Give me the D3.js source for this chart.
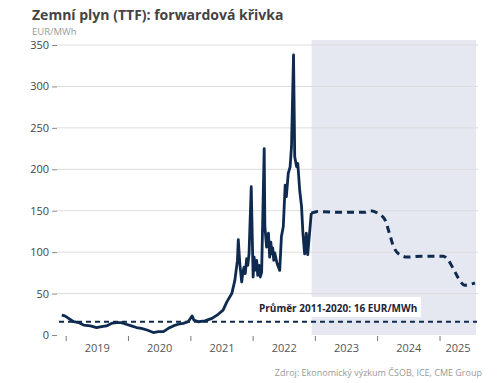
<!DOCTYPE html>
<html>
<head>
<meta charset="utf-8">
<script src="https://cdn.jsdelivr.net/npm/d3@7"></script>
<style>
    body { margin: 0; background: #fff; }
    text { font-family: "Open Sans", sans-serif; }
</style>
</head>
<body>
<svg id="chart" width="499" height="383"></svg>
<script>
// historical TTF front month, EUR/MWh
var histDates = ["2018-12-06","2018-12-24","2019-01-15","2019-02-14","2019-03-15","2019-04-13","2019-05-23","2019-06-28",
    "2019-07-27","2019-08-25","2019-09-23","2019-10-22","2019-11-20","2019-12-19","2020-01-18","2020-02-17","2020-03-17",
    "2020-04-19","2020-05-26","2020-06-24","2020-07-24","2020-08-22","2020-09-20","2020-10-19","2020-11-17","2020-12-16",
    "2021-01-08","2021-01-19","2021-02-14","2021-03-25","2021-05-05","2021-06-10","2021-07-09","2021-07-31","2021-08-29",
    "2021-09-16","2021-10-01","2021-10-06","2021-10-15","2021-10-26","2021-11-02","2021-11-09","2021-11-16","2021-11-24",
    "2021-12-01","2021-12-08","2021-12-21","2022-01-01","2022-01-07","2022-01-12","2022-01-22","2022-01-28","2022-02-06",
    "2022-02-12","2022-02-20","2022-03-07","2022-03-11","2022-03-21","2022-04-01","2022-04-08","2022-04-15","2022-04-20",
    "2022-04-26","2022-05-02","2022-05-08","2022-05-22","2022-06-06","2022-06-16","2022-06-27","2022-07-08","2022-07-15",
    "2022-07-26","2022-08-06","2022-08-14","2022-08-26","2022-09-02","2022-09-13","2022-09-20","2022-10-01","2022-10-12",
    "2022-10-20","2022-10-30","2022-11-09","2022-11-17","2022-11-28","2022-12-08"];
var histValues = [24, 23, 20, 16, 15, 12, 11, 9,
    10, 11, 14, 15, 15, 13, 11, 9, 8,
    6, 3, 4, 4, 8, 11, 13, 14, 16,
    23, 18, 16, 17, 20, 25, 30, 40, 50,
    66, 90, 115, 86, 64, 76, 82, 74, 92,
    84, 98, 179, 70, 94, 78, 90, 72, 84,
    70, 76, 225, 131, 106, 123, 94, 112, 98,
    105, 90, 99, 86, 78, 119, 131, 181, 167,
    195, 203, 227, 338, 215, 203, 207, 175, 155,
    123, 98, 123, 97, 123, 147];

// forward curve
var fwdDates = ["2022-12-08","2023-01-15","2023-06-15","2023-10-15","2023-11-20","2024-01-01","2024-02-13","2024-03-10",
    "2024-04-03","2024-05-03","2024-06-22","2024-09-15","2025-01-20","2025-02-12","2025-03-20","2025-04-20","2025-05-25","2025-07-25"];
var fwdValues = [147, 149, 148, 148, 150, 147, 139, 123,
    107, 98, 94, 95, 95, 92, 80, 68, 60, 63];

var yTicks = [0, 50, 100, 150, 200, 250, 300, 350];
var yearLabels = ["2019", "2020", "2021", "2022", "2023", "2024", "2025"];
var average = 16;
var forecastStart = "2022-12-10";
var domainStart = "2018-11-08", domainEnd = "2025-07-31";

var parse = d3.timeParse("%Y-%m-%d");
var svg = d3.select("#chart");

var x = d3.scaleTime()
    .domain([parse(domainStart), parse(domainEnd)])
    .range([57, 476]);

var y = d3.scaleLinear()
    .domain([0, 350])
    .range([335, 45]);

var navy = "#0f2a4f";

// forecast shading
svg.append("rect")
    .attr("x", x(parse(forecastStart)))
    .attr("y", 40)
    .attr("width", x(parse(domainEnd)) - x(parse(forecastStart)))
    .attr("height", y(0) - 40)
    .attr("fill", "#e5e8f0");

// gridlines
svg.append("g").selectAll("line")
    .data(yTicks.filter(d => d > 0))
    .enter().append("line")
    .attr("x1", 57).attr("x2", 478)
    .attr("y1", d => y(d)).attr("y2", d => y(d))
    .attr("stroke", "#dcdcdc")
    .attr("stroke-width", 1);

// y axis
var yAxis = svg.append("g")
    .attr("transform", "translate(57,0)")
    .call(d3.axisLeft(y).tickValues(yTicks).tickSize(5).tickPadding(3));
yAxis.select(".domain").remove();
yAxis.selectAll(".tick line").attr("stroke", "#888");
yAxis.selectAll("text")
    .attr("fill", "#444")
    .style("font-size", "11px")
    .style("font-family", "Open Sans, sans-serif");

// x axis ticks on year starts
var yearStarts = yearLabels.map(d => parse(d + "-01-01"));
svg.append("g").selectAll("line")
    .data(yearStarts)
    .enter().append("line")
    .attr("x1", d => x(d)).attr("x2", d => x(d))
    .attr("y1", 336).attr("y2", 341)
    .attr("stroke", "#777");

svg.append("g").selectAll("text")
    .data(yearLabels)
    .enter().append("text")
    .attr("x", function(d, i) {
        var a = x(yearStarts[i]);
        var b = i < yearLabels.length - 1 ? x(yearStarts[i + 1]) : x(parse(domainEnd));
        return (a + b) / 2;
    })
    .attr("y", 352)
    .attr("text-anchor", "middle")
    .attr("fill", "#555")
    .style("font-size", "11px")
    .text(d => d);

// average line
svg.append("line")
    .attr("x1", 59).attr("x2", 477)
    .attr("y1", y(average)).attr("y2", y(average))
    .attr("stroke", navy)
    .attr("stroke-width", 2)
    .attr("stroke-dasharray", "5,4");

svg.append("rect")
    .attr("x", 255).attr("y", 297)
    .attr("width", 166).attr("height", 20)
    .attr("fill", "#fff");

svg.append("text")
    .attr("x", 259).attr("y", 312)
    .attr("fill", "#1c2433")
    .style("font-size", "10px")
    .style("font-weight", "bold")
    .text("Průměr 2011-2020: " + average + " EUR/MWh");

// lines
var hist = histDates.map((d, i) => ({date: parse(d), value: histValues[i]}));
var fwd = fwdDates.map((d, i) => ({date: parse(d), value: fwdValues[i]}));

var line = d3.line()
    .x(d => x(d.date))
    .y(d => y(d.value));

svg.append("path")
    .datum(fwd)
    .attr("d", line.curve(d3.curveMonotoneX))
    .attr("fill", "none")
    .attr("stroke", navy)
    .attr("stroke-width", 3)
    .attr("stroke-dasharray", "7,5");

svg.append("path")
    .datum(hist)
    .attr("d", d3.line().x(d => x(d.date)).y(d => y(d.value)))
    .attr("fill", "none")
    .attr("stroke", navy)
    .attr("stroke-width", 2.8)
    .attr("stroke-linejoin", "round");

// title, unit, source
svg.append("text")
    .attr("x", 32).attr("y", 20)
    .attr("fill", "#444")
    .style("font-size", "14px")
    .style("font-weight", "bold")
    .text("Zemní plyn (TTF): forwardová křivka");

svg.append("text")
    .attr("x", 32).attr("y", 35)
    .attr("fill", "#999")
    .style("font-size", "9.5px")
    .text("EUR/MWh");

svg.append("text")
    .attr("x", 482).attr("y", 376)
    .attr("text-anchor", "end")
    .attr("fill", "#999")
    .style("font-size", "9px")
    .text("Zdroj: Ekonomický výzkum ČSOB, ICE, CME Group");
</script>
</body>
</html>
